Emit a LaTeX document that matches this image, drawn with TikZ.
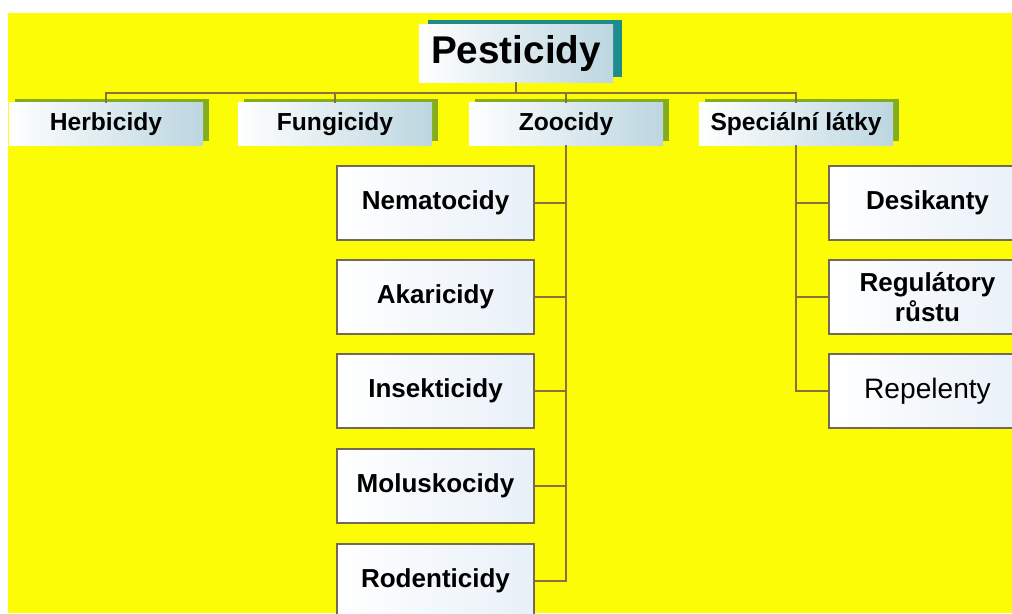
\documentclass[tikz,border=0pt]{standalone}
\usepackage{fontspec}
\setmainfont{Liberation Sans}
\usetikzlibrary{shadows}

\definecolor{bgyellow}{RGB}{252,252,6}
\definecolor{boxblue}{RGB}{188,214,224}
\definecolor{leafblue}{RGB}{232,240,248}
\definecolor{shadegreen}{RGB}{132,172,28}
\definecolor{shadeteal}{RGB}{30,140,140}
\definecolor{linkbrown}{RGB}{140,112,60}
\definecolor{leafedge}{RGB}{115,105,85}

\tikzset{
    pestbox/.style={minimum width=4.85cm, minimum height=1.43cm, inner sep=0pt,
        left color=white, right color=boxblue,
        general shadow={shadow xshift=.22cm, shadow yshift=.12cm, fill=shadeteal},
        font=\fontsize{27.5}{30}\selectfont\bfseries},
    groupbox/.style={minimum width=4.85cm, minimum height=1.05cm, inner sep=0pt,
        left color=white, right color=boxblue,
        general shadow={shadow xshift=.16cm, shadow yshift=.09cm, fill=shadegreen},
        font=\fontsize{17.5}{20}\selectfont\bfseries},
    leafbox/.style={minimum width=4.92cm, minimum height=1.85cm, inner sep=0pt,
        draw=leafedge, line width=1.3pt, left color=white, right color=leafblue,
        align=center, font=\fontsize{18.5}{21.5}\selectfont\bfseries},
    link/.style={draw=linkbrown, line width=2pt}
}

\begin{document}
\begin{tikzpicture}[x=0.025cm, y=-0.025cm]
    \clip (0,0) rectangle (1012,613);
    \fill[white] (0,0) rectangle (1012,613);
    \fill[bgyellow] (8,13) rectangle (1012,613);

    \node[pestbox] (pest) at (516,53.5) {Pesticidy};
    \node[groupbox] (herb) at (106,124) {Herbicidy};
    \node[groupbox] (fung) at (335,124) {Fungicidy};
    \node[groupbox] (zoo)  at (566,124) {Zoocidy};
    \node[groupbox] (spec) at (796,124) {Speciální látky};

    \node[leafbox] (nema)  at (435.5,203) {Nematocidy};
    \node[leafbox] (akar)  at (435.5,297) {Akaricidy};
    \node[leafbox] (insek) at (435.5,391) {Insekticidy};
    \node[leafbox] (molus) at (435.5,486) {Moluskocidy};
    \node[leafbox] (roden) at (435.5,581) {Rodenticidy};

    \node[leafbox] (desik) at (927.5,203) {Desikanty};
    \node[leafbox] (regul) at (927.5,297) {Regulátory\\růstu};
    \node[leafbox, font=\fontsize{20}{23}\selectfont] (repel) at (927.5,391) {Repelenty};

    % top level
    \coordinate (bus) at (516,93);
    \draw[link] (pest.south) -- (bus);
    \draw[link] (herb.north) -- (herb.north |- bus) -- (spec.north |- bus) -- (spec.north);
    \draw[link] (fung.north) -- (fung.north |- bus);
    \draw[link] (zoo.north) -- (zoo.north |- bus);

    % zoocidy
    \draw[link] (zoo.south) -- (zoo.south |- roden.east) -- (roden.east);
    \foreach \n in {nema, akar, insek, molus}
        \draw[link] (\n.east) -- (\n.east -| zoo.south);

    % specialni latky
    \draw[link] (spec.south) -- (spec.south |- repel.west) -- (repel.west);
    \foreach \n in {desik, regul}
        \draw[link] (\n.west) -- (\n.west -| spec.south);
\end{tikzpicture}
\end{document}
